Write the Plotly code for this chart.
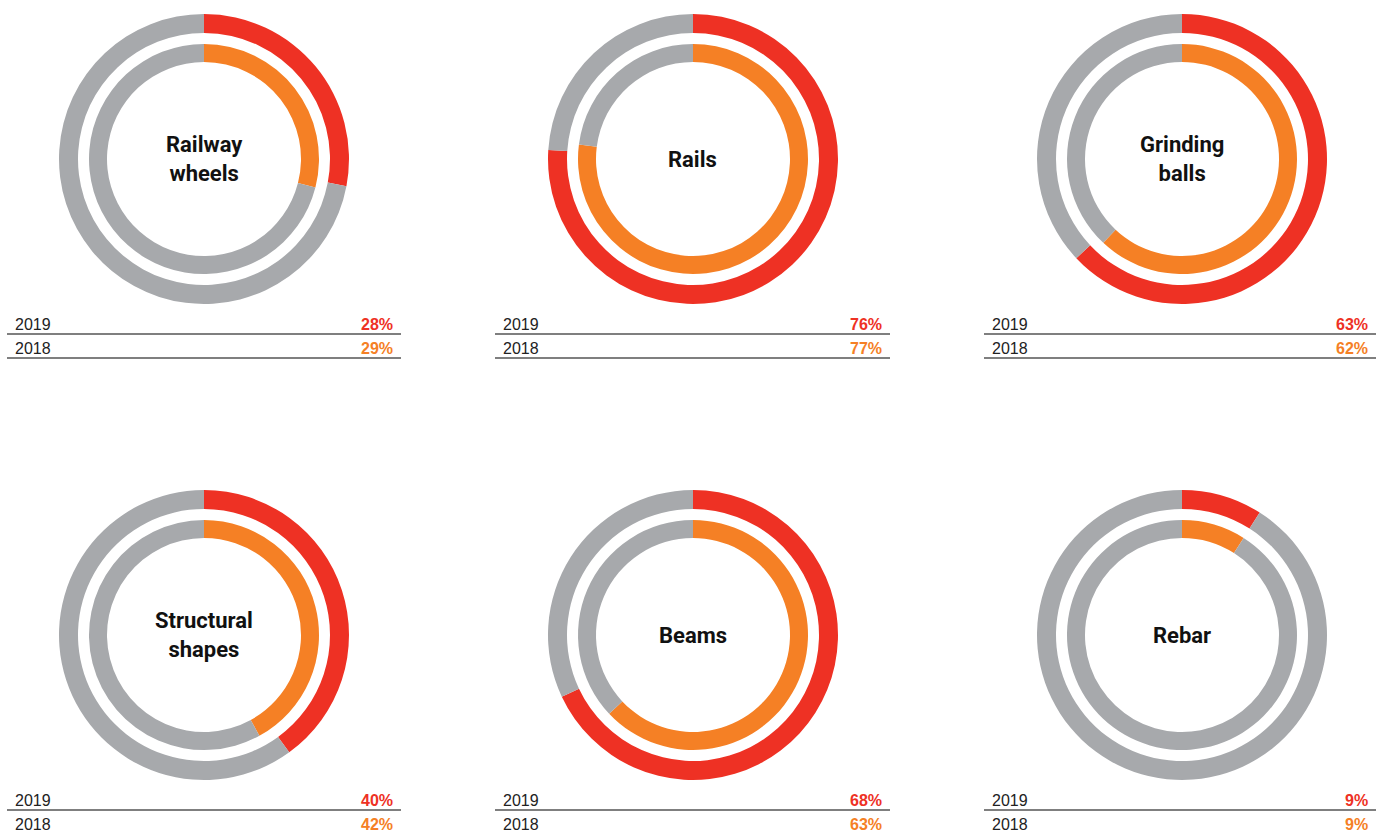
import plotly.graph_objects as go

W, H = 1376, 833

products = ['Railway<br>wheels', 'Rails', 'Grinding<br>balls', 'Structural<br>shapes', 'Beams', 'Rebar']
share_2019 = [28, 76, 63, 40, 68, 9]
share_2018 = [29, 77, 62, 42, 63, 9]
years = ['2019', '2018']

RED = '#EE3124'
ORANGE = '#F58025'
GRAY = '#A7A9AC'

col_cx = [204, 693, 1182]
row_cy = [159, 635]
table_x = [(7, 401), (495, 890), (984, 1376)]

R_OUT, HOLE_OUT = 145, 126 / 145
R_IN, HOLE_IN = 115, 97 / 115


def px(x):
    return x / W


def py(y):
    return 1 - y / H


fig = go.Figure()
shapes = []
annotations = []

for i, name in enumerate(products):
    cx = col_cx[i % 3]
    cy = row_cy[i // 3]
    for r, hole, val, col in [(R_OUT, HOLE_OUT, share_2019[i], RED),
                              (R_IN, HOLE_IN, share_2018[i], ORANGE)]:
        fig.add_trace(go.Pie(
            values=[val, 100 - val],
            marker=dict(colors=[col, GRAY], line=dict(width=0)),
            hole=hole, sort=False, direction='clockwise', rotation=0,
            textinfo='none', hoverinfo='skip', showlegend=False,
            domain=dict(x=[px(cx - r), px(cx + r)], y=[py(cy + r), py(cy - r)]),
        ))
    annotations.append(dict(
        x=px(cx), y=py(cy), xref='paper', yref='paper', text='<b>' + name + '</b>',
        showarrow=False, font=dict(family='Roboto', size=22, color='#111111'),
        xanchor='center', yanchor='middle'))

    # small table underneath
    x0, x1 = table_x[i % 3]
    base = cy + 165
    vals = [share_2019[i], share_2018[i]]
    cols = [RED, ORANGE]
    for k in range(2):
        ty = base + 24 * k
        annotations.append(dict(
            x=px(x0 + 6), y=py(ty), xref='paper', yref='paper', text=years[k],
            showarrow=False, xanchor='left', yanchor='middle',
            font=dict(family='Liberation Sans', size=16, color='#222222')))
        annotations.append(dict(
            x=px(x1 - 6), y=py(ty), xref='paper', yref='paper',
            text='<b>%d%%</b>' % vals[k], showarrow=False,
            xanchor='right', yanchor='middle',
            font=dict(family='Liberation Sans', size=16, color=cols[k])))
        shapes.append(dict(
            type='line', xref='paper', yref='paper',
            x0=px(x0), x1=px(x1), y0=py(ty + 10), y1=py(ty + 10),
            line=dict(color='#555555', width=1.5)))

fig.update_layout(
    width=W, height=H,
    margin=dict(l=0, r=0, t=0, b=0),
    paper_bgcolor='white', plot_bgcolor='white',
    shapes=shapes, annotations=annotations,
)

fig.write_html("out.html", config={'displayModeBar': False},
               post_script="document.body.style.margin='0';document.body.style.overflow='hidden';")
